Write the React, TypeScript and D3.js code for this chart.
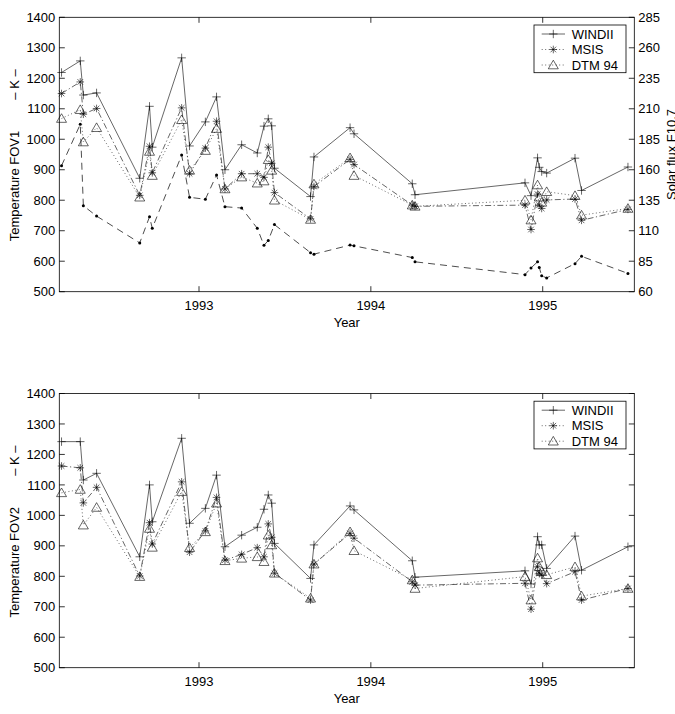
import { useEffect, useRef } from "react";
import * as d3 from "d3";

// observation dates (decimal years)
const dates = [
  1992.2, 1992.309, 1992.327, 1992.404, 1992.655, 1992.712, 1992.728, 1992.899,
  1992.945, 1993.037, 1993.102, 1993.151, 1993.248, 1993.339, 1993.378, 1993.403,
  1993.423, 1993.439, 1993.649, 1993.669, 1993.879, 1993.902, 1994.241, 1994.257,
  1994.897, 1994.932, 1994.97, 1994.98, 1994.994, 1995.023, 1995.188, 1995.226,
  1995.496,
];

// FOV1 temperatures (K)
const windiiFov1 = [
  1219, 1257, 1145, 1152, 872, 1108, 974, 1267, 978, 1057, 1139, 900, 982,
  955, 1043, 1067, 1044, 905, 812, 942, 1038, 1018, 854, 818,
  857, 815, 939, 908, 894, 889, 938, 832, 909,
];
const msisFov1 = [
  1150, 1188, 1082, 1101, 816, 977, 890, 1103, 887, 971, 1059, 837, 887,
  887, 875, 974, 921, 825, 739, 845, 934, 917, 784, 780,
  784, 704, 820, 784, 773, 801, 804, 734, 770,
];
const dtmFov1 = [
  1068, 1097, 991, 1038, 810, 960, 881, 1064, 898, 963, 1035, 837, 876,
  856, 863, 933, 898, 800, 737, 853, 939, 881, 784, 780,
  800, 735, 850, 810, 793, 828, 815, 751, 773,
];

// F10.7 solar flux (right axis of the FOV1 panel)
const solarFlux: (number | null)[] = [
  163.3, 197.3, 130.5, 122, 100, 121.4, 112, 172, 137.4, 135.8, 155.7, 129.7, 128.6,
  112, 98, 102, null, 115, 92, 90.8, 98.2, 97.6, 88, 84.5,
  74, 79.5, 84.5, 79.9, 73, 71.3, 83, 89, 75,
];

// FOV2 temperatures (K)
const windiiFov2 = [
  1242, 1242, 1116, 1138, 864, 1100, 979, 1253, 974, 1023, 1132, 897, 935,
  961, 1020, 1067, 1040, 908, 793, 903, 1031, 1018, 851, 797,
  818, 775, 930, 903, 903, 826, 932, 820, 897,
];
const msisFov2 = [
  1162, 1156, 1041, 1092, 801, 976, 906, 1110, 879, 949, 1059, 853, 872,
  894, 864, 972, 928, 810, 722, 840, 941, 925, 782, 771,
  777, 692, 831, 810, 805, 776, 815, 722, 760,
];
const dtmFov2 = [
  1074, 1085, 968, 1026, 799, 957, 895, 1078, 894, 946, 1040, 851, 859,
  864, 848, 935, 903, 810, 728, 840, 946, 884, 788, 760,
  799, 722, 860, 831, 815, 805, 831, 735, 760,
];

const tempTicks = [500, 600, 700, 800, 900, 1000, 1100, 1200, 1300, 1400];
const fluxTicks = [60, 85, 110, 135, 160, 185, 210, 235, 260, 285];
const yearTicks = [1993, 1994, 1995];
const seriesNames = ["WINDII", "MSIS", "DTM 94"];

const FONT = "'Liberation Sans', Arial, Helvetica, sans-serif";

type Sel = d3.Selection<SVGGElement, unknown, null, undefined>;

function plusPath(x: number, y: number) {
  const s = 4.2;
  return `M${x - s},${y}H${x + s}M${x},${y - s}V${y + s}`;
}
function starPath(x: number, y: number) {
  const s = 3.8;
  const d = 2.8;
  return (
    `M${x - s},${y}H${x + s}M${x},${y - s}V${y + s}` +
    `M${x - d},${y - d}L${x + d},${y + d}M${x - d},${y + d}L${x + d},${y - d}`
  );
}
function triPath(x: number, y: number) {
  return `M${x},${y - 4.8}L${x + 5},${y + 3.8}L${x - 5},${y + 3.8}Z`;
}

const styles = [
  { dash: null as string | null, color: "#000", marker: plusPath },
  { dash: "6,2.5,1.2,2.5", color: "#000", marker: starPath },
  { dash: "1,2.5", color: "#444", marker: triPath },
];

export default function App() {
  const svgRef = useRef<SVGSVGElement | null>(null);

  useEffect(() => {
    if (!svgRef.current) return;
    const svg = d3.select(svgRef.current);
    svg.selectAll("*").remove();

    const left = 59.3;
    const right = 634.3;
    const x = d3.scaleLinear().domain([1992.187, 1995.533]).range([left, right]);

    const drawPanel = (
      top: number,
      bottom: number,
      series: number[][],
      label: string,
      withFlux: boolean
    ) => {
      const g: Sel = svg.append("g");
      const y = d3.scaleLinear().domain([500, 1400]).range([bottom, top]);
      const yFlux = d3.scaleLinear().domain([60, 285]).range([bottom, top]);

      // solar flux on the right axis
      if (withFlux) {
        const pts = dates
          .map((d, i) => [d, solarFlux[i]] as [number, number | null])
          .filter((p) => p[1] !== null) as [number, number][];
        const line = d3
          .line<[number, number]>()
          .x((d) => x(d[0]))
          .y((d) => yFlux(d[1]));
        g.append("path")
          .attr("d", line(pts))
          .attr("fill", "none")
          .attr("stroke", "#000")
          .attr("stroke-width", 0.7)
          .attr("stroke-dasharray", "7,5");
        g.selectAll("circle.flux")
          .data(pts)
          .enter()
          .append("circle")
          .attr("cx", (d) => x(d[0]))
          .attr("cy", (d) => yFlux(d[1]))
          .attr("r", 1.5)
          .attr("fill", "#000");
      }

      // model and measurement series
      series.forEach((vals, si) => {
        const st = styles[si];
        const line = d3
          .line<number>()
          .x((_, i) => x(dates[i]))
          .y((d) => y(d));
        const p = g
          .append("path")
          .attr("d", line(vals))
          .attr("fill", "none")
          .attr("stroke", st.color)
          .attr("stroke-width", si === 2 ? 0.8 : 0.6);
        if (st.dash) p.attr("stroke-dasharray", st.dash);
        g.append("path")
          .attr("d", vals.map((v, i) => st.marker(x(dates[i]), y(v))).join(""))
          .attr("fill", "none")
          .attr("stroke", "#000")
          .attr("stroke-width", 0.6);
      });

      // axes box
      g.append("rect")
        .attr("x", left)
        .attr("y", top)
        .attr("width", right - left)
        .attr("height", bottom - top)
        .attr("fill", "none")
        .attr("stroke", "#000")
        .attr("stroke-width", 0.8);

      const tl = 5.5;
      const ticks = g.append("g").attr("stroke", "#000").attr("stroke-width", 0.8);
      tempTicks.forEach((t) => {
        const yy = y(t);
        ticks.append("line").attr("x1", left).attr("x2", left + tl).attr("y1", yy).attr("y2", yy);
        ticks.append("line").attr("x1", right).attr("x2", right - tl).attr("y1", yy).attr("y2", yy);
      });
      yearTicks.forEach((t) => {
        const xx = x(t);
        ticks.append("line").attr("x1", xx).attr("x2", xx).attr("y1", bottom).attr("y2", bottom - tl);
        ticks.append("line").attr("x1", xx).attr("x2", xx).attr("y1", top).attr("y2", top + tl);
      });

      const txt = g
        .append("g")
        .attr("font-family", FONT)
        .attr("font-size", 13)
        .attr("fill", "#000");

      tempTicks.forEach((t) => {
        txt.append("text")
          .attr("x", left - 4)
          .attr("y", y(t) + 4.6)
          .attr("text-anchor", "end")
          .text(t);
      });
      if (withFlux) {
        fluxTicks.forEach((t) => {
          txt.append("text")
            .attr("x", right + 4)
            .attr("y", yFlux(t) + 4.6)
            .text(t);
        });
        txt.append("text")
          .attr("transform", `translate(676,${(top + bottom) / 2}) rotate(-90)`)
          .attr("text-anchor", "middle")
          .text("Solar flux  F10.7");
      }
      yearTicks.forEach((t) => {
        txt.append("text")
          .attr("x", x(t))
          .attr("y", bottom + 18)
          .attr("text-anchor", "middle")
          .text(t);
      });
      txt.append("text")
        .attr("x", (left + right) / 2)
        .attr("y", bottom + 35)
        .attr("text-anchor", "middle")
        .text("Year");

      // rotated y label
      txt.append("text")
        .attr("transform", `translate(18.7,${top + 224}) rotate(-90)`)
        .text(label);
      txt.append("text")
        .attr("transform", `translate(18.7,${top + 52}) rotate(-90)`)
        .attr("text-anchor", "end")
        .text("\u2013 K \u2013");

      // legend
      const lg = g.append("g");
      const lx = 534;
      const ly = top + 7.7;
      lg.append("rect")
        .attr("x", lx)
        .attr("y", ly)
        .attr("width", 92)
        .attr("height", 47.7)
        .attr("fill", "#fff")
        .attr("stroke", "#000")
        .attr("stroke-width", 0.8);
      seriesNames.forEach((name, i) => {
        const st = styles[i];
        const yy = ly + 9 + i * 15.5;
        const l = lg.append("line")
          .attr("x1", 541.7)
          .attr("x2", 565)
          .attr("y1", yy)
          .attr("y2", yy)
          .attr("stroke", st.color)
          .attr("stroke-width", i === 2 ? 0.8 : 0.6);
        if (st.dash) l.attr("stroke-dasharray", i === 0 ? null : "1,2.5");
        lg.append("path")
          .attr("d", st.marker(553.3, yy))
          .attr("fill", "none")
          .attr("stroke", "#000")
          .attr("stroke-width", 0.6);
        lg.append("text")
          .attr("x", 571.7)
          .attr("y", yy + 4.6)
          .attr("font-family", FONT)
          .attr("font-size", 13)
          .text(name);
      });
    };

    drawPanel(17.3, 291.7, [windiiFov1, msisFov1, dtmFov1], "Temperature FOV1", true);
    drawPanel(393.5, 667.7, [windiiFov2, msisFov2, dtmFov2], "Temperature FOV2", false);
  }, []);

  return (
    <svg
      ref={svgRef}
      width={675}
      height={714}
      style={{ position: "absolute", left: 0, top: 0, background: "#fff" }}
    />
  );
}
